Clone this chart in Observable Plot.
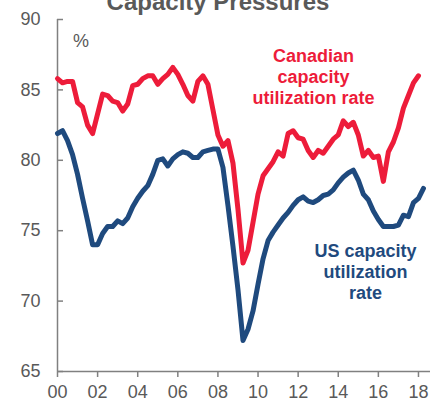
<!DOCTYPE html>
<html><head><meta charset="utf-8">
<script src="https://cdn.jsdelivr.net/npm/d3@7"></script>
<script src="https://cdn.jsdelivr.net/npm/@observablehq/plot@0.6"></script>
<style>
html,body{margin:0;padding:0;background:#fff;}
#chart{width:440px;height:402px;overflow:hidden;}
svg{display:block;}
</style></head><body><div id="chart"></div>
<script>
// Quarterly data starting 2000 Q1
const startYear = 2000;
const canada = [
  85.8, 85.5, 85.6, 85.6,
  84.1, 83.8, 82.5, 81.9,
  83.3, 84.7, 84.6, 84.2,
  84.1, 83.5, 84.0, 85.3,
  85.4, 85.8, 86.0, 86.0,
  85.4, 85.8, 86.1, 86.6,
  86.1, 85.4, 84.6, 84.2,
  85.6, 86.0, 85.4, 83.6,
  81.8, 81.0, 81.4, 79.8,
  76.5, 72.7, 73.6, 75.6,
  77.6, 78.9, 79.4, 79.9,
  80.6, 80.3, 81.9, 82.1,
  81.6, 81.5, 80.7, 80.2,
  80.7, 80.5, 81.0, 81.5,
  81.8, 82.8, 82.4, 82.7,
  81.8, 80.3, 80.7, 80.2,
  80.3, 78.5, 80.6, 81.3,
  82.3, 83.7, 84.6, 85.5,
  86.0
];
const us = [
  81.9, 82.1, 81.4, 80.4,
  79.0, 77.3, 75.7, 74.0,
  74.0, 74.8, 75.3, 75.3,
  75.7, 75.5, 75.9, 76.7,
  77.3, 77.8, 78.2, 79.0,
  80.0, 80.1, 79.6, 80.1,
  80.4, 80.6, 80.5, 80.2,
  80.2, 80.6, 80.7, 80.8,
  80.8, 79.5, 76.8, 73.9,
  70.8, 67.2, 68.0, 69.3,
  71.2, 73.0, 74.3, 74.9,
  75.4, 75.9, 76.3, 76.8,
  77.2, 77.4, 77.1, 77.0,
  77.2, 77.5, 77.6, 77.9,
  78.4, 78.8, 79.1, 79.3,
  78.6, 77.6, 77.2, 76.4,
  75.8, 75.3, 75.3, 75.3,
  75.4, 76.1, 76.0, 77.0,
  77.3, 78.0
];
const xTicks = [2000, 2002, 2004, 2006, 2008, 2010, 2012, 2014, 2016, 2018];
const yTicks = [65, 70, 75, 80, 85, 90];
const title = "Capacity Pressures";
const unitLabel = "%";
const RED = "#ED1C3A";
const BLUE = "#1F4A7E";
const labels = [
  {x: 2012.77, y: 86.0, text: "Canadian\ncapacity\nutilization rate", color: RED},
  {x: 2015.36, y: 72.1, text: "US capacity\nutilization\nrate", color: BLUE}
];
const unitPos = [{x: 2001.17, y: 88.45, text: unitLabel}];

const toRows = (vals, series) => vals.map((v, i) => ({date: startYear + i / 4, value: v, series}));
const caRows = toRows(canada, "Canada");
const usRows = toRows(us, "US");

const FONT = "Arial, 'Liberation Sans', sans-serif";
const chart = Plot.plot({
  width: 440, height: 402,
  marginTop: 19, marginBottom: 31, marginLeft: 57, marginRight: 10,
  style: {fontFamily: FONT, fontSize: "18px", background: "#fff", overflow: "visible"},
  x: {domain: [2000, 2018.6]},
  y: {domain: [65, 90]},
  marks: [
    Plot.axisY({ticks: yTicks, tickSize: 6, dx: 6, tickPadding: 17, stroke: "#808080", fill: "#595959", fontSize: 18, label: null, strokeWidth: 1.5}),
    Plot.axisX({ticks: xTicks, tickSize: 6, tickPadding: 8, stroke: "#808080", fill: "#595959", fontSize: 18, label: null, strokeWidth: 1.5,
      tickFormat: d => String(d % 100).padStart(2, "0")}),
    Plot.ruleX([2000], {stroke: "#808080", strokeWidth: 1.5}),
    Plot.ruleY([65], {stroke: "#808080", strokeWidth: 1.5}),
    Plot.line(usRows, {x: "date", y: "value", stroke: BLUE, strokeWidth: 5}),
    Plot.line(caRows, {x: "date", y: "value", stroke: RED, strokeWidth: 5}),
    Plot.text(labels, {x: "x", y: "y", text: "text", fill: "color", fontWeight: "bold", fontSize: 18, lineHeight: 1.17}),
    Plot.text(unitPos, {x: "x", y: "y", text: "text", fill: "#595959", fontSize: 18}),
    Plot.text([title], {frameAnchor: "top", dy: -10, dx: -26, lineAnchor: "bottom", fontSize: 24, fontWeight: "bold", fill: "#595959"})
  ]
});
document.getElementById("chart").appendChild(chart);
</script></body></html>
